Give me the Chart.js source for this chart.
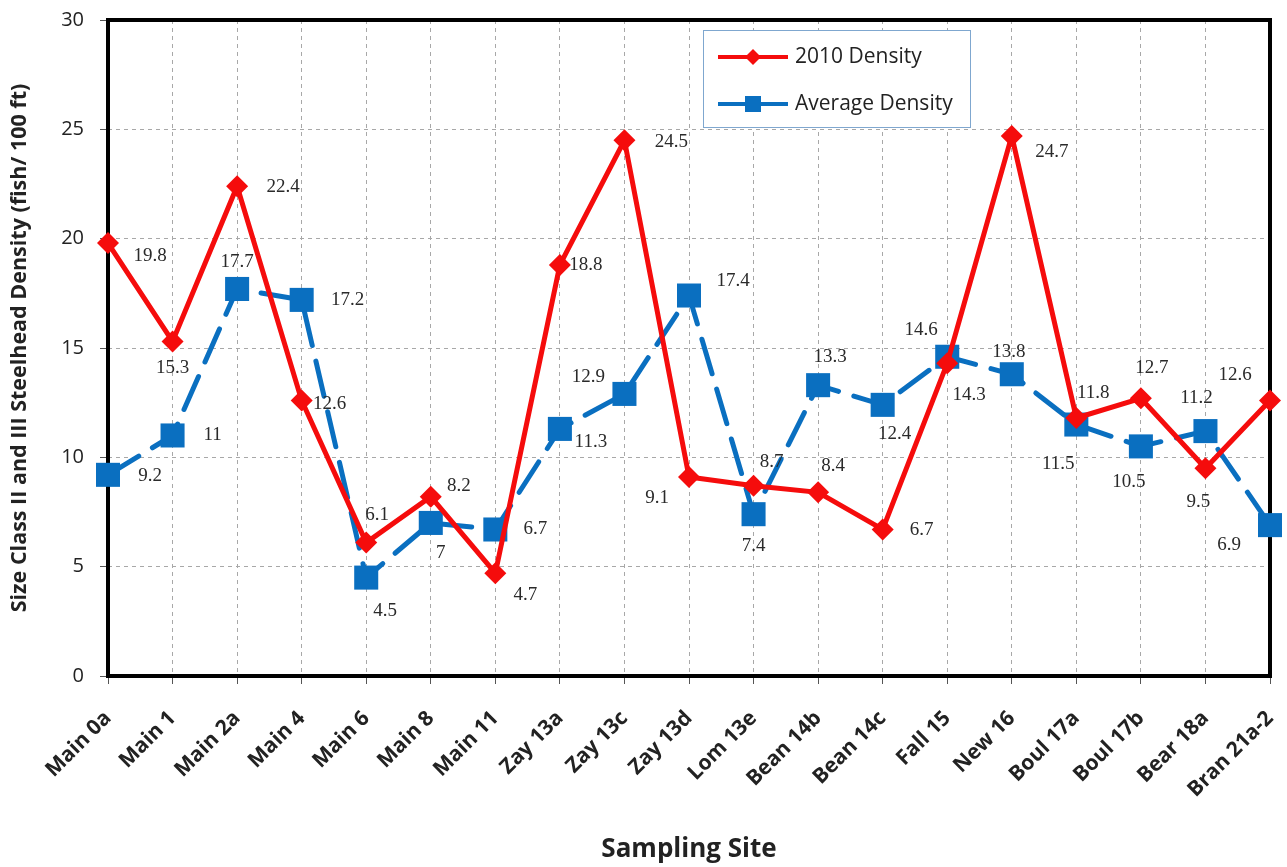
<!DOCTYPE html>
<html><head><meta charset="utf-8">
<script src="https://cdn.jsdelivr.net/npm/chart.js@4"></script>
<style>html,body{margin:0;padding:0;background:#fff}#wrap{width:1287px;height:867px}</style>
</head><body><div id="wrap"><canvas id="c" width="1287" height="867"></canvas></div>
<script>
const sites = ['Main 0a','Main 1','Main 2a','Main 4','Main 6','Main 8','Main 11','Zay 13a','Zay 13c','Zay 13d','Lom 13e','Bean 14b','Bean 14c','Fall 15','New 16','Boul 17a','Boul 17b','Bear 18a','Bran 21a-2'];
const density2010 = [19.8,15.3,22.4,12.6,6.1,8.2,4.7,18.8,24.5,9.1,8.7,8.4,6.7,14.3,24.7,11.8,12.7,9.5,12.6];
const averageDensity = [9.2,11,17.7,17.2,4.5,7,6.7,11.3,12.9,17.4,7.4,13.3,12.4,14.6,13.8,11.5,10.5,11.2,6.9];
const yTicks = [0,5,10,15,20,25,30];
const seriesNames = ['2010 Density','Average Density'];
const yTitle = 'Size Class II and III Steelhead Density (fish/ 100 ft)';
const xTitle = 'Sampling Site';

// data-label placement (pixel offsets from each point)
const redLabelOffsets = [[42,13],[0,27],[46,1],[28,4],[11,-28],[28,-11],[30,22],[26,0],[47,2],[-32,21],[18,-24],[15,-26],[39,1],[22,32],[40,16],[17,-25],[11,-30],[-7,34],[-35,-25]];
const blueLabelOffsets = [[42,1],[40,0],[0,-27],[46,0],[19,33],[10,30],[40,0],[31,13],[-36,-17],[44,-15],[0,32],[12,-28],[12,29],[-26,-27],[-3,-22],[-18,39],[-12,36],[-9,-33],[-41,20]];

const RED = '#f50c0c';
const BLUE = '#0a6fc0';

const frame = {
  id: 'frame',
  beforeDatasetsDraw(chart) {
    const {ctx, chartArea: a} = chart;
    ctx.save();
    ctx.strokeStyle = '#000';
    ctx.lineWidth = 4;
    ctx.strokeRect(a.left, a.top, a.right - a.left, a.bottom - a.top);
    ctx.restore();
  }
};

const dataLabels = {
  id: 'dataLabels',
  afterDatasetsDraw(chart) {
    const ctx = chart.ctx;
    const offs = [redLabelOffsets, blueLabelOffsets];
    ctx.save();
    ctx.font = '19px "Liberation Serif", "DejaVu Serif", serif';
    ctx.fillStyle = '#2a2a2a';
    ctx.textAlign = 'center';
    ctx.textBaseline = 'middle';
    chart.data.datasets.forEach((ds, di) => {
      const meta = chart.getDatasetMeta(di);
      meta.data.forEach((pt, i) => {
        const o = offs[di][i];
        ctx.fillText(String(ds.data[i]), pt.x + o[0], pt.y + o[1]);
      });
    });
    ctx.restore();
  }
};

const boxLegend = {
  id: 'boxLegend',
  afterDraw(chart) {
    const ctx = chart.ctx;
    const a = chart.chartArea;
    const x0 = a.left + 595, y0 = a.top + 10, w = 267, h = 97;
    ctx.save();
    ctx.fillStyle = '#fff';
    ctx.fillRect(x0, y0, w, h);
    ctx.strokeStyle = '#7fa7cf';
    ctx.lineWidth = 1;
    ctx.strokeRect(x0 + 0.5, y0 + 0.5, w, h);
    const rows = [y0 + 27, y0 + 74];
    chart.data.datasets.forEach((ds, i) => {
      const y = rows[i];
      ctx.strokeStyle = ds.borderColor;
      ctx.lineWidth = 4;
      ctx.beginPath();
      ctx.moveTo(x0 + 15, y);
      ctx.lineTo(x0 + 85, y);
      ctx.stroke();
      ctx.fillStyle = ds.borderColor;
      if (i === 0) {
        ctx.beginPath();
        ctx.moveTo(x0 + 50, y - 8); ctx.lineTo(x0 + 58, y); ctx.lineTo(x0 + 50, y + 8); ctx.lineTo(x0 + 42, y);
        ctx.closePath(); ctx.fill();
      } else {
        ctx.fillRect(x0 + 42, y - 8, 16, 16);
      }
      ctx.fillStyle = '#222';
      ctx.font = '21px "Open Sans", "Liberation Sans", sans-serif';
      ctx.textAlign = 'left';
      ctx.textBaseline = 'middle';
      ctx.fillText(ds.label, x0 + 92, y);
    });
    ctx.restore();
  }
};

new Chart(document.getElementById('c'), {
  type: 'line',
  data: {
    labels: sites,
    datasets: [
      {
        label: seriesNames[0], data: density2010,
        borderColor: RED, backgroundColor: RED, borderWidth: 5,
        pointStyle: 'rectRot', pointRadius: 11, pointBorderWidth: 0,
        pointBackgroundColor: RED, tension: 0, clip: false
      },
      {
        label: seriesNames[1], data: averageDensity,
        borderColor: BLUE, backgroundColor: BLUE, borderWidth: 5,
        borderDash: [36, 16], borderCapStyle: 'round',
        pointStyle: 'rect', pointRadius: 17, pointBorderWidth: 0,
        pointBackgroundColor: BLUE, tension: 0, clip: false
      }
    ]
  },
  options: {
    responsive: false,
    animation: false,
    devicePixelRatio: 1,
    layout: { padding: { top: 20, right: 17, left: 0, bottom: 0 } },
    plugins: { legend: { display: false }, tooltip: { enabled: false } },
    scales: {
      x: {
        offset: false,
        grid: { color: '#a8a8a8', lineWidth: 1, tickLength: 8, tickColor: '#555', drawTicks: true },
        border: { display: false, dash: [4, 4] },
        ticks: { maxRotation: 45, minRotation: 45, autoSkip: false, padding: 22, color: '#222',
                 font: { family: '"Open Sans", "Liberation Sans", sans-serif', size: 21, weight: 'bold' } },
        title: { display: true, text: xTitle, color: '#222', padding: { top: 0, bottom: 2 },
                 font: { family: '"Open Sans", "Liberation Sans", sans-serif', size: 26, weight: 'bold' } },
        afterFit(s) { s.height = 191; s.paddingLeft = 0; s.paddingRight = 0; s.paddingTop = 0; s.paddingBottom = 0; }
      },
      y: {
        min: 0, max: 30,
        afterBuildTicks(s) { s.ticks = yTicks.map(v => ({ value: v })); },
        grid: { color: '#a8a8a8', lineWidth: 1, tickLength: 8, tickColor: '#555' },
        border: { display: false, dash: [4, 4] },
        ticks: { padding: 16, color: '#222',
                 font: { family: '"Open Sans", "Liberation Sans", sans-serif', size: 20 } },
        title: { display: true, text: yTitle, color: '#222', padding: { top: 7, bottom: 0 },
                 font: { family: '"Open Sans", "Liberation Sans", sans-serif', size: 21.5, weight: 'bold' } },
        afterFit(s) { s.width = 108; s.paddingLeft = 0; s.paddingRight = 0; s.paddingTop = 0; s.paddingBottom = 0; }
      }
    }
  },
  plugins: [frame, dataLabels, boxLegend]
});
</script></body></html>
